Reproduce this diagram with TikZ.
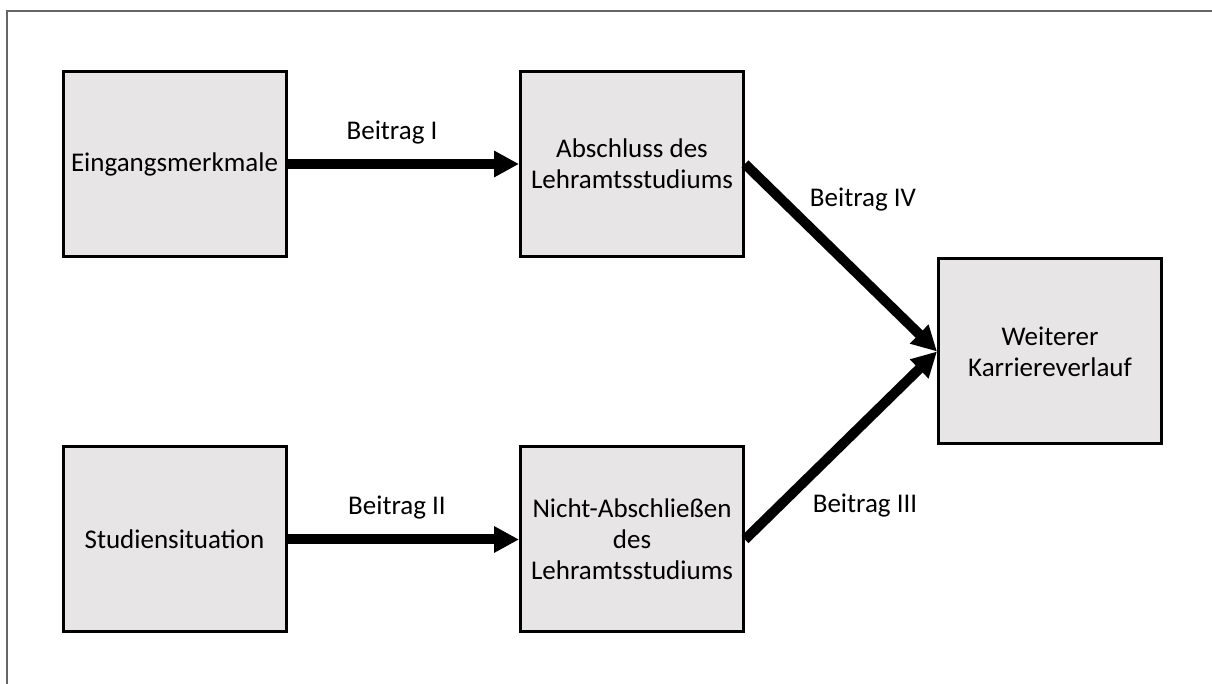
\documentclass[tikz,border=0pt]{standalone}
\usepackage{fontspec}
\setmainfont{Carlito}
\usetikzlibrary{arrows.meta}

\definecolor{boxgray}{RGB}{231,229,230}

\tikzset{
    stage/.style={draw, line width=1.5pt, fill=boxgray, minimum width=111.5pt,
        minimum height=92.5pt, align=center, inner sep=2pt,
        font=\fontsize{13.5}{15.5}\selectfont},
    path/.style={line width=5pt, -{Triangle[length=12.5pt, width=12.5pt]}},
    tag/.style={anchor=base, font=\fontsize{13.5}{15.5}\selectfont}
}

\begin{document}
\begin{tikzpicture}[x=0.5pt, y=-0.5pt]
    \useasboundingbox (0,0) rectangle (1212,684);

    % frame
    \draw[line width=0.8pt, black!60] (7,684) -- (7,11) -- (1212,11);

    \node[stage] (eingang) at (174.5,164) {Eingangsmerkmale};
    \node[stage] (studien) at (174.5,539.5) {Studiensituation};
    \node[stage] (abschluss) at (632,164) {Abschluss des\\Lehramtsstudiums};
    \node[stage] (nicht) at (632,539.5) {Nicht-Abschließen\\des\\Lehramtsstudiums};
    \node[stage] (weiter) at (1050,351.5) {Weiterer\\Karriereverlauf};

    \draw[path] (eingang) -- (abschluss);
    \draw[path] (studien) -- (nicht);
    \draw[path] (abschluss.east) -- (weiter.west);
    \draw[path] (nicht.east) -- (weiter.west);

    \node[tag] (b1) at (392,140) {Beitrag I};
    \node[tag] (b2) at (397,515) {Beitrag II};
    \node[tag] (b4) at (863,207) {Beitrag IV};
    \node[tag] (b3) at (865,513) {Beitrag III};
\end{tikzpicture}
\end{document}
